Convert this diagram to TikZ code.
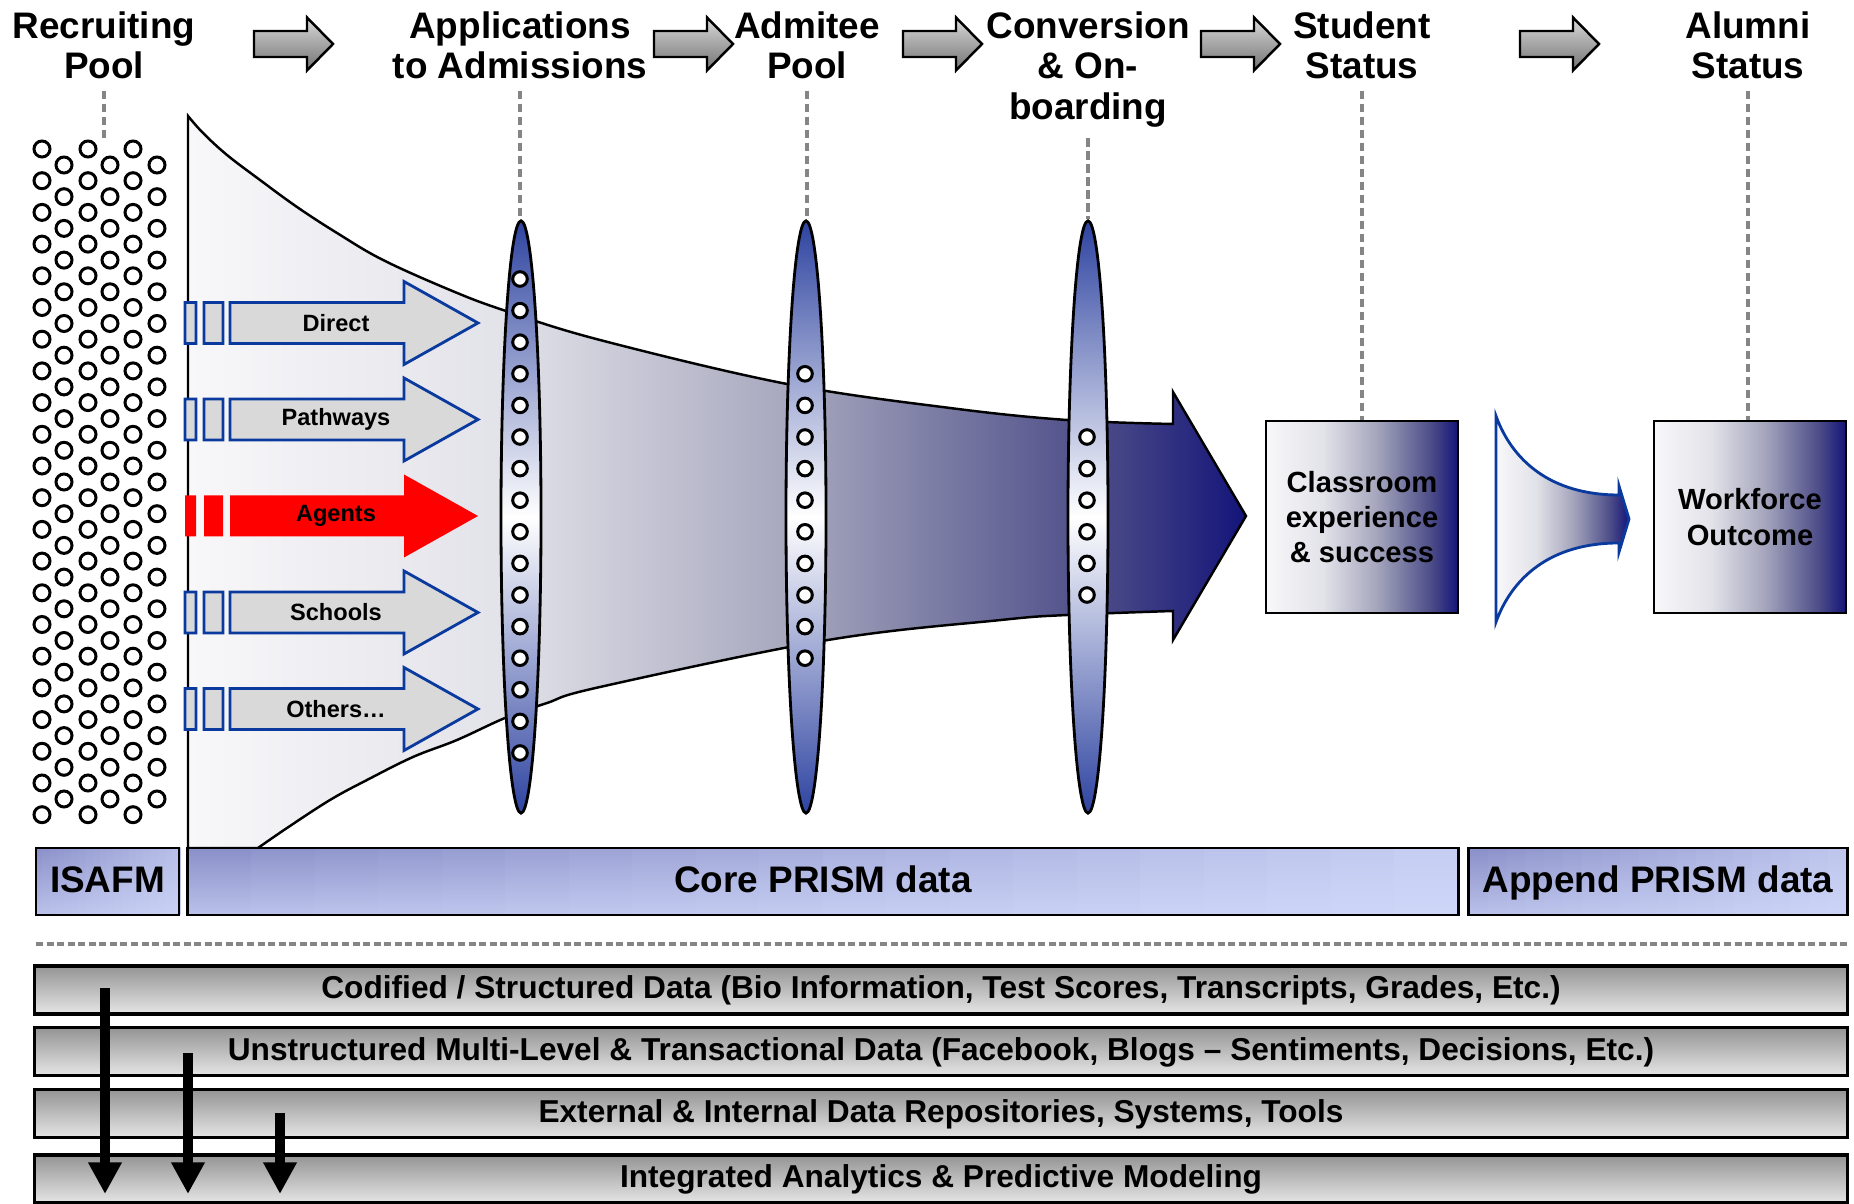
\documentclass[tikz,border=0pt]{standalone}
\usepackage{fontspec}
\setmainfont{Liberation Sans}
\usepackage{tikz}
\usetikzlibrary{shapes.geometric,arrows.meta,positioning}

\definecolor{navyend}{HTML}{14147A}
\definecolor{fadeA}{HTML}{F8F8FA}
\definecolor{fadeB}{HTML}{E2E2E9}
\definecolor{fadeC}{HTML}{A4A5BC}
\definecolor{fadeD}{HTML}{4C4C88}
\definecolor{lensblue}{HTML}{2E43A0}
\definecolor{chanblue}{HTML}{0A3A9E}
\definecolor{chanfill}{HTML}{D9D9D9}
\definecolor{prismdark}{HTML}{8A90C8}
\definecolor{prismlight}{HTML}{D4DCFC}
\definecolor{guidegray}{HTML}{858585}

\pgfdeclarehorizontalshading{navyfade}{100bp}{color(0bp)=(fadeA); color(25bp)=(fadeA); color(40bp)=(fadeB); color(54bp)=(fadeC); color(68bp)=(fadeD); color(75bp)=(navyend); color(100bp)=(navyend)}

\tikzset{
  hdrblock/.pic={\draw[hdrarrow] (0,-13) -- (53,-13) -- (53,-26.5) -- (79,0) -- (53,26.5) -- (53,13) -- (0,13) -- cycle;},
  chanblock/.pic={\path[#1] (185,-20.5) rectangle (196,20.5) (204,-20.5) rectangle (223,20.5)
      (230,-20.5) -- (404,-20.5) -- (404,-41.5) -- (478,0) -- (404,41.5) -- (404,20.5) -- (230,20.5) -- cycle;}
}

\begin{document}
\begin{tikzpicture}[x=0.01cm,y=-0.01cm,
    every node/.style={font=\bfseries},
    hdr/.style={align=center,inner sep=0pt,anchor=north,font=\fontsize{10.5}{11.5}\selectfont\bfseries},
    hdrarrow/.style={draw,line width=0.7pt,top color=black!15,bottom color=black!55},
    dot/.style={draw,fill=white,line width=0.85pt},
    funnel/.style={draw,line width=0.7pt,shade,shading=navyfade},
    chan/.style={draw=chanblue,fill=chanfill,line width=0.8pt},
    chlabel/.style={font=\fontsize{6.7}{8}\selectfont\bfseries},
    lens/.style={ellipse,draw,line width=0.8pt,top color=lensblue,bottom color=lensblue,middle color=white,
        minimum width=0.4cm,minimum height=5.92cm,inner sep=0pt},
    outcome/.style={draw,line width=0.8pt,shade,shading=navyfade,minimum width=1.92cm,minimum height=1.92cm,
        align=center,font=\fontsize{8.3}{10}\selectfont\bfseries},
    horn/.style={draw=chanblue,line width=0.8pt,shade,shading=navyfade},
    guide/.style={draw=guidegray,line width=0.9pt,dash pattern=on 2.4pt off 1.3pt,shorten <=3pt},
    prism/.style={draw,line width=0.8pt,minimum height=0.67cm,inner sep=0pt,text height=8.5pt,text depth=2.5pt,
        font=\fontsize{10.5}{12}\selectfont\bfseries},
    layer/.style={draw,line width=0.9pt,top color=black!42,bottom color=black!10,minimum width=18.12cm,
        minimum height=0.48cm,inner sep=0pt,text height=7pt,text depth=2pt,font=\fontsize{9}{11}\selectfont\bfseries},
    feed/.style={line width=2.8pt,-{Triangle[width=9pt,length=9pt]}}]

    \useasboundingbox (0,0) rectangle (1854,1204);

    % recruiting pool
    \foreach \xx in {42,88,133} {
        \foreach \r in {0,...,21} \draw[dot] (\xx,{149+31.7*\r}) circle[radius=8];
    }
    \foreach \xx in {64,110,157} {
        \foreach \r in {0,...,20} \draw[dot] (\xx,{165+31.7*\r}) circle[radius=8];
    }

    % funnel
    \draw[funnel] (188,848) -- plot[smooth,tension=0.6] coordinates {(188,116) (203,133) (227,155) (260,180)
        (297,207) (337,233) (383,260) (450,290) (503,310) (600,340) (787,384) (950,408) (1067,420) (1173,424)}
        -- (1173,392) -- (1246,516) -- (1173,640)
        -- plot[smooth,tension=0.6] coordinates {(1173,611) (1067,615) (1001,620) (828,640) (600,687)
        (547,703) (505,718) (457,740) (413,757) (367,780) (330,800) (287,828) (258,848)} -- cycle;

    % channels
    \foreach \y/\lbl/\nm in {323/Direct/direct,419.5/Pathways/pathways,612.5/Schools/schools,709/Others…/others} {
        \pic at (0,\y) {chanblock=chan};
        \node[chlabel] (\nm) at (336,\y) {\lbl};
    }
    \pic at (0,516) {chanblock={fill=red}};
    \node[chlabel] (agents) at (336,516) {Agents};

    % filters
    \foreach \xx/\cnt [count=\k] in {521/16,806/10,1088/6} {
        \node[lens] (lens\k) at (\xx,517) {};
        \foreach \j in {1,...,\cnt} \draw[dot] (\xx-1,{516+31.6*(\j-(\cnt+1)/2)}) circle[radius=7.3];
    }

    \node[outcome] (classroom) at (1362,517) {Classroom\\experience\\\& success};
    \draw[horn] (1496,416) .. controls (1512,460) and (1550,495) .. (1619,495) -- (1619,486) -- (1629,519)
        -- (1619,552) -- (1619,543) .. controls (1550,543) and (1512,578) .. (1496,622) -- cycle;
    \node[outcome] (workforce) at (1750,517) {Workforce\\Outcome};

    % stages
    \node[hdr] (hRec) at (104,11) {Recruiting\\Pool};
    \node[hdr] (hApp) at (520,11) {Applications\\to Admissions};
    \node[hdr] (hAdm) at (807,11) {Admitee\\Pool};
    \node[hdr] (hConv) at (1088,11) {Conversion\\\& On-\\boarding};
    \node[hdr] (hStu) at (1362,11) {Student\\Status};
    \node[hdr] (hAlu) at (1748,11) {Alumni\\Status};
    \foreach \xx in {254,654,903,1201,1520} \pic at (\xx,44) {hdrblock};

    \coordinate (poolTop) at (104,138);
    \draw[guide] (hRec.south) -- (poolTop);
    \foreach \h/\t in {hApp/lens1,hAdm/lens2,hConv/lens3,hStu/classroom,hAlu/workforce}
        \draw[guide] (\h.south) -- (\h.south |- \t.north);

    % data
    \foreach \xa/\xb/\fw in {35.5/179.5/60,188/1458/80,1469/1847/70} {
        \pgfmathsetmacro{\sw}{(\xb-\xa)/20}
        \foreach \s in {0,...,19} {
            \pgfmathtruncatemacro{\p}{100-\fw*\s/19}
            \pgfmathtruncatemacro{\q}{0.35*\p}
            \shade[top color=prismdark!\p!prismlight,bottom color=prismdark!\q!prismlight]
                ({\xa+\sw*\s},848) rectangle ({\xa+\sw*(\s+1)+1},915);
        }
    }
    \node[prism,minimum width=1.43cm] (isafm) at (107.5,881.5) {ISAFM};
    \node[prism,minimum width=12.7cm] (core) at (823,881.5) {Core PRISM data};
    \node[prism,minimum width=3.78cm] (append) at (1658,881.5) {Append PRISM data};
    \draw[guidegray,line width=0.9pt,dash pattern=on 2pt off 1pt] (36,944) -- (1847,944);

    \node[layer] (layer1) at (941,990) {Codified / Structured Data (Bio Information, Test Scores, Transcripts, Grades, Etc.)};
    \node[layer] (layer2) at (941,1051.5) {Unstructured Multi-Level \& Transactional Data (Facebook, Blogs – Sentiments, Decisions, Etc.)};
    \node[layer] (layer3) at (941,1113.5) {External \& Internal Data Repositories, Systems, Tools};
    \node[layer] (layer4) at (941,1179) {Integrated Analytics \& Predictive Modeling};

    \foreach \xx/\ys [count=\i] in {105/988,188/1053,280/1113} {
        \coordinate (src\i) at (\xx,\ys);
        \coordinate (dst\i) at (\xx,1194);
        \draw[feed] (src\i) -- (dst\i);
    }
\end{tikzpicture}
\end{document}
